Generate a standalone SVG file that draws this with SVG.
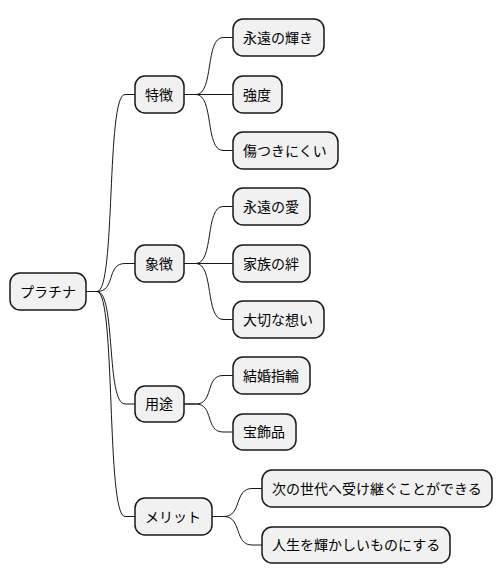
<svg xmlns="http://www.w3.org/2000/svg" width="503" height="584" viewBox="0 0 503 584">
<style>
.n rect{fill:#F1F1F1;stroke:#181818;stroke-width:1.5}
.n text{font-family:"Noto Sans CJK JP","Noto Sans",sans-serif;font-size:14px;fill:#000}
#edges path{fill:none;stroke:#181818;stroke-width:1}
</style>
<rect width="503" height="584" fill="#fff"/>
<g id="edges">
<path d="M86,291.5 L97,291.5 C116,291.5 106,94.5 125,94.5 L135,94.5"/>
<path d="M86,291.5 L97,291.5 C116,291.5 106,263.5 125,263.5 L135,263.5"/>
<path d="M86,291.5 L97,291.5 C116,291.5 106,404 125,404 L135,404"/>
<path d="M86,291.5 L97,291.5 C116,291.5 106,516.5 125,516.5 L135,516.5"/>
<path d="M184,94.5 L196,94.5 C214,94.5 205,37.5 223,37.5 L233,37.5"/>
<path d="M184,94.5 L233,94.5"/>
<path d="M184,94.5 L196,94.5 C214,94.5 205,150.5 223,150.5 L233,150.5"/>
<path d="M184,263.5 L196,263.5 C214,263.5 205,206.5 223,206.5 L233,206.5"/>
<path d="M184,263.5 L233,263.5"/>
<path d="M184,263.5 L196,263.5 C214,263.5 205,319.5 223,319.5 L233,319.5"/>
<path d="M184,404 L196,404 C214,404 205,375.5 223,375.5 L233,375.5"/>
<path d="M184,404 L196,404 C214,404 205,432 223,432 L233,432"/>
<path d="M212,516.5 L224,516.5 C242,516.5 234,488.5 252,488.5 L262,488.5"/>
<path d="M212,516.5 L224,516.5 C242,516.5 234,545 252,545 L262,545"/>
</g>
<g id="root" class="n"><rect x="10" y="273" width="76" height="37" rx="10"/><text x="20" y="296.5">プラチナ</text></g>
<g id="tokuchou" class="n"><rect x="135" y="76" width="49" height="37" rx="10"/><text x="145" y="99.5">特徴</text></g>
<g id="shouchou" class="n"><rect x="135" y="245" width="49" height="37" rx="10"/><text x="145" y="268.5">象徴</text></g>
<g id="youto" class="n"><rect x="135" y="386" width="49" height="36" rx="10"/><text x="145" y="409">用途</text></g>
<g id="merit" class="n"><rect x="135" y="498" width="77" height="37" rx="10"/><text x="145" y="521.5">メリット</text></g>
<g id="eien-kagayaki" class="n"><rect x="233" y="19" width="91" height="37" rx="10"/><text x="243" y="42.5">永遠の輝き</text></g>
<g id="kyoudo" class="n"><rect x="233" y="76" width="49" height="37" rx="10"/><text x="243" y="99.5">強度</text></g>
<g id="kizu" class="n"><rect x="233" y="132" width="105" height="37" rx="10"/><text x="243" y="155.5">傷つきにくい</text></g>
<g id="eien-ai" class="n"><rect x="233" y="188" width="77" height="37" rx="10"/><text x="243" y="211.5">永遠の愛</text></g>
<g id="kazoku" class="n"><rect x="233" y="245" width="77" height="37" rx="10"/><text x="243" y="268.5">家族の絆</text></g>
<g id="taisetsu" class="n"><rect x="233" y="301" width="91" height="37" rx="10"/><text x="243" y="324.5">大切な想い</text></g>
<g id="kekkon" class="n"><rect x="233" y="357" width="77" height="37" rx="10"/><text x="243" y="380.5">結婚指輪</text></g>
<g id="houshoku" class="n"><rect x="233" y="414" width="63" height="36" rx="10"/><text x="243" y="437">宝飾品</text></g>
<g id="tsugi" class="n"><rect x="262" y="470" width="230" height="37" rx="10"/><text x="272" y="493.5">次の世代へ受け継ぐことができる</text></g>
<g id="jinsei" class="n"><rect x="262" y="527" width="188" height="36" rx="10"/><text x="272" y="550">人生を輝かしいものにする</text></g>
</svg>
